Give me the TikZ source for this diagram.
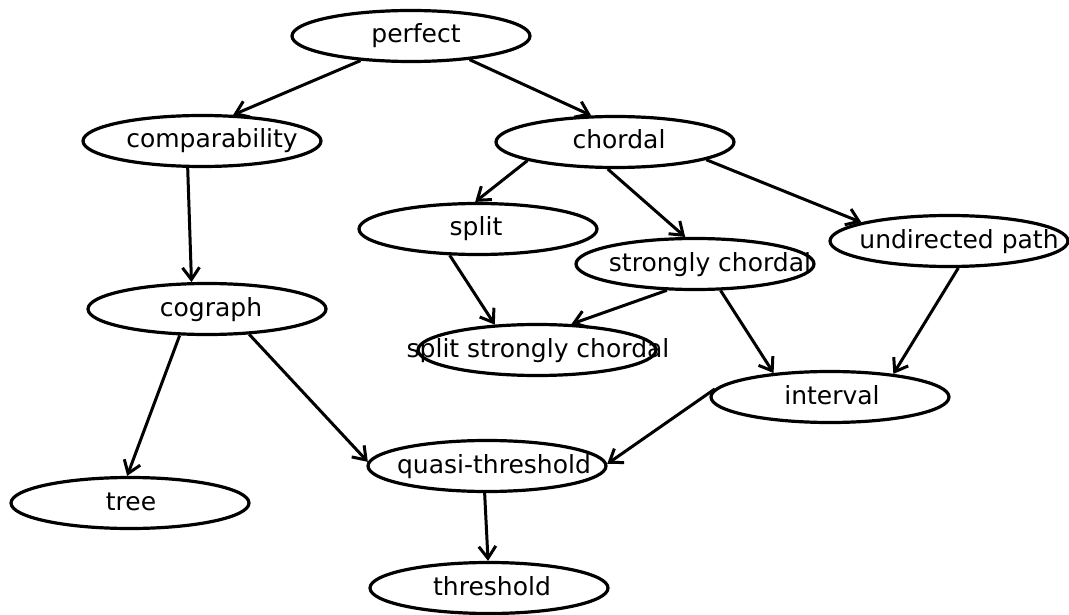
\documentclass[tikz,border=0pt]{standalone}
\usepackage{fontspec}
\setmainfont{DejaVu Sans}
\usetikzlibrary{arrows.meta,shapes.geometric}
\newcommand{\lbl}[2]{\makebox[0pt][c]{\kern#1pt\kern#1pt #2}}
\begin{document}
\begin{tikzpicture}[x=1pt,y=-1pt,
  cls/.style={draw=black, line width=3.2pt, ellipse, minimum width=238pt, minimum height=51pt,
    inner sep=0pt, text height=19pt, text depth=5pt, font=\fontsize{25}{28}\selectfont},
  edge/.style={line width=3pt, -{Straight Barb[length=12pt,width=17pt]}}]
\useasboundingbox (0,0) rectangle (1069,615);
\node[cls] (perfect) at (411,36) {\lbl{5}{perfect}};
\node[cls] (comp) at (202,141) {\lbl{10}{comparability}};
\node[cls] (chordal) at (615,142) {\lbl{4}{chordal}};
\node[cls] (split) at (478,229) {\lbl{-2}{split}};
\node[cls] (strong) at (695,264) {\lbl{15}{strongly chordal}};
\node[cls] (upath) at (949,241) {\lbl{10}{undirected path}};
\node[cls] (cograph) at (207,309) {\lbl{4}{cograph}};
\node[cls] (ssc) at (537,350) {\lbl{1}{split strongly chordal}};
\node[cls] (interval) at (830,397) {\lbl{2}{interval}};
\node[cls] (quasi) at (487,466) {\lbl{7}{quasi-threshold}};
\node[cls] (tree) at (130,503) {\lbl{1}{tree}};
\node[cls] (thresh) at (489,588) {\lbl{3}{threshold}};
\draw[edge] (perfect.206.6) -- (comp.40.6);
\draw[edge] (perfect.-22.8) -- (chordal.132);
\draw[edge] (comp.242.6) -- (cograph.120);
\draw[edge] (chordal.192) -- (split.96);
\draw[edge] (chordal.255) -- (strong.110);
\draw[edge] (chordal.-11.5) -- (upath.168.3);
\draw[edge] (split.223) -- (ssc.149);
\draw[edge] (strong.223) -- (ssc.37.6);
\draw[edge] (strong.-46.3) -- (interval.157.4);
\draw[edge] (upath.-71.6) -- (interval.20.6);
\draw[edge] (interval.176.6) -- (quasi.1.9);
\draw[edge] (cograph.-31.2) -- (quasi.178.6);
\draw[edge] (cograph.224) -- (tree.96);
\draw[edge] (quasi.265.6) -- (thresh.92);
\end{tikzpicture}
\end{document}
